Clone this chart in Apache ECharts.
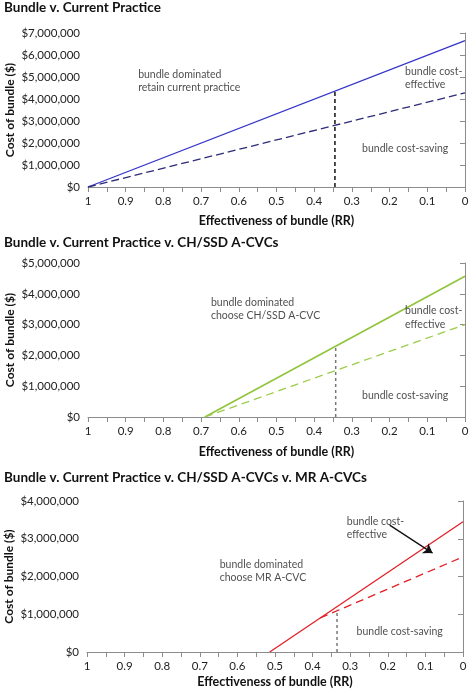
<!DOCTYPE html>
<html><head><meta charset="utf-8">
<script src="https://cdn.jsdelivr.net/npm/echarts@6/dist/echarts.min.js"></script>
<style>html,body{margin:0;padding:0;background:#fff}#c{width:470px;height:690px}</style>
</head><body><div id="c"></div>
<script>
// ---- data ----
const titles = ['Bundle v. Current Practice', 'Bundle v. Current Practice v. CH/SSD A-CVCs', 'Bundle v. Current Practice v. CH/SSD A-CVCs v. MR A-CVCs'];
const xAxisName = 'Effectiveness of bundle (RR)';
const yAxisName = 'Cost of bundle ($)';
const yMax = [7000000, 5000000, 4000000];
// panel 1
const p1Solid = [[1, 0], [0, 6650000]];
const p1Dashed = [[1, 0], [0, 4280000]];
const p1Vertical = [[0.345, 0], [0.345, 4360000]];
// panel 2
const p2Solid = [[0.69, 0], [0, 4570000]];
const p2Dashed = [[0.69, 0], [0, 3000000]];
const p2Vertical = [[0.343, 0], [0.343, 2300000]];
// panel 3
const p3Solid = [[0.514, 0], [0, 3450000]];
const p3Dashed = [[0.38, 900000], [0, 2520000]];
const p3Vertical = [[0.335, 0], [0.335, 1120000]];
const p3Arrow = [[0.195, 3360000], [0.081, 2620000]];
// annotations: [x, y, text]
const p1Notes = [[0.867, 4820000, 'bundle dominated\nretain current practice'], [0.159, 4950000, 'bundle cost-\neffective'], [0.273, 1730000, 'bundle cost-saving']];
const p2Notes = [[0.674, 3510000, 'bundle dominated\nchoose CH/SSD A-CVC'], [0.159, 3230000, 'bundle cost-\neffective'], [0.273, 680000, 'bundle cost-saving']];
const p3Notes = [[0.647, 2140000, 'bundle dominated\nchoose MR A-CVC'], [0.309, 3280000, 'bundle cost-\neffective'], [0.283, 550000, 'bundle cost-saving']];

// ---- chart ----
const F = 'Lato, "Liberation Sans", sans-serif';
const grids = [
  {left: 88, right: 5, top: 33, height: 154, outerBoundsMode: 'none', containLabel: false},
  {left: 88, right: 5, top: 263, height: 154, outerBoundsMode: 'none', containLabel: false},
  {left: 87, right: 7, top: 501, height: 151, outerBoundsMode: 'none', containLabel: false}
];
const titleTops = [1, 236, 471];
const xNameGaps = [27, 28, 23];
const axisColor = '#8c8c8c';
function fmtMoney(v) { return '$' + Math.round(v).toLocaleString('en-US'); }
const xAxes = grids.map((g, i) => ({
  gridIndex: i, type: 'value', min: 0, max: 1, interval: 0.05, inverse: true,
  name: xAxisName, nameLocation: 'middle', nameGap: xNameGaps[i], nameMoveOverlap: false,
  nameTextStyle: {fontFamily: F, fontWeight: 'bold', fontSize: 12.5, color: '#111'},
  axisLine: {lineStyle: {color: axisColor}},
  axisTick: {show: true, length: 5, lineStyle: {color: axisColor}},
  splitLine: {show: false},
  axisLabel: {fontFamily: F, fontSize: 11.5, color: '#222', margin: 8,
    formatter: v => (Math.round(v * 20) % 2 === 0 ? String(+v.toFixed(1)) : '')}
}));
const yAxes = grids.map((g, i) => ({
  gridIndex: i, type: 'value', min: 0, max: yMax[i], interval: 1000000,
  name: yAxisName, nameLocation: 'middle', nameGap: 72, nameRotate: 90, nameMoveOverlap: false,
  nameTextStyle: {fontFamily: F, fontWeight: 'bold', fontSize: 12, color: '#111'},
  axisLine: {show: true, lineStyle: {color: axisColor}},
  axisTick: {show: true, length: 5, lineStyle: {color: axisColor}},
  splitLine: {show: false},
  axisLabel: {fontFamily: F, fontSize: 11.5, color: '#222', margin: 8, formatter: fmtMoney}
}));
function line(i, data, color, type, width, z) {
  return {type: 'line', xAxisIndex: i, yAxisIndex: i, data: data, symbol: 'none', silent: true,
    lineStyle: {color: color, type: type, width: width}, z: z || 2, animation: false};
}
function notes(i, arr) {
  return {type: 'scatter', xAxisIndex: i, yAxisIndex: i, symbolSize: 0, silent: true, animation: false,
    data: arr.map(a => ({value: [a[0], a[1]], label: {formatter: a[2]}})),
    label: {show: true, position: 'right', distance: 0, fontFamily: F, fontSize: 10.5, color: '#222', lineHeight: 13.5, align: 'left'}};
}
const series = [
  line(0, p1Solid, '#3535c8', 'solid', 1.3),
  line(0, p1Dashed, '#2b2b78', [8, 4], 1.3),
  line(0, p1Vertical, '#111', [4, 3], 1.5),
  notes(0, p1Notes),
  line(1, p2Solid, '#8fc43a', 'solid', 1.5),
  line(1, p2Dashed, '#9bcc4a', [8, 5], 1.3),
  line(1, p2Vertical, '#777', [3, 3], 1.5),
  notes(1, p2Notes),
  line(2, p3Solid, '#e21f26', 'solid', 1.3),
  line(2, p3Dashed, '#e21f26', [8, 5], 1.3),
  line(2, p3Vertical, '#777', [3, 3], 1.5),
  notes(2, p3Notes),
  {type: 'lines', coordinateSystem: 'cartesian2d', xAxisIndex: 2, yAxisIndex: 2, silent: true, animation: false, z: 5,
   symbol: ['none', 'arrow'], symbolSize: 9,
   lineStyle: {color: '#111', width: 1.3, opacity: 1},
   data: [{coords: p3Arrow}]}
];
const chart = echarts.init(document.getElementById('c'), null, {renderer: 'canvas'});
chart.setOption({
  animation: false,
  backgroundColor: '#fff',
  title: titles.map((t, i) => ({text: t, left: 4, top: titleTops[i], padding: [0, 0, 0, 0],
    textStyle: {fontFamily: F, fontWeight: 'bold', fontSize: 13.5, color: '#111'}})),
  grid: grids,
  xAxis: xAxes,
  yAxis: yAxes,
  series: series
});
</script></body></html>
